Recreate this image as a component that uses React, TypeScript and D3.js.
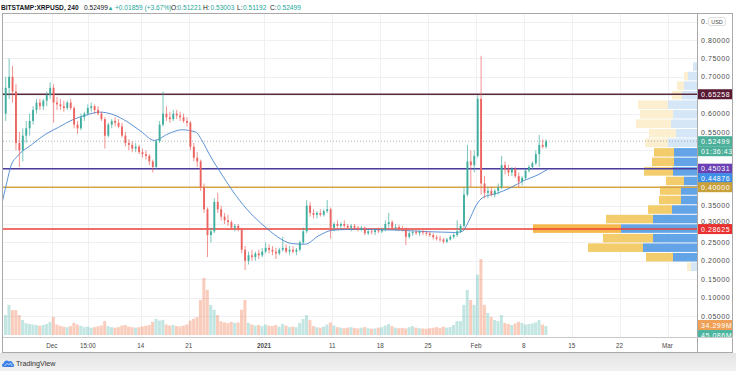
import React from 'react'
import * as d3 from 'd3'

// 12h candles, starting 2020-11-24 00:00 UTC: [open, high, low, close]
const candleStart = '2020-11-24T00:00:00Z'
const ohlc: number[][] = [
  [0.60, 0.70, 0.58, 0.67], [0.67, 0.75, 0.64, 0.70], [0.70, 0.73, 0.63, 0.66], [0.66, 0.68, 0.50, 0.52],
  [0.52, 0.55, 0.455, 0.50], [0.50, 0.56, 0.47, 0.54], [0.54, 0.58, 0.52, 0.56], [0.56, 0.60, 0.54, 0.58],
  [0.58, 0.62, 0.57, 0.61], [0.61, 0.64, 0.60, 0.63], [0.63, 0.64, 0.61, 0.62], [0.62, 0.64, 0.61, 0.635],
  [0.635, 0.66, 0.62, 0.65], [0.65, 0.685, 0.64, 0.67], [0.67, 0.68, 0.575, 0.63], [0.63, 0.645, 0.61, 0.625],
  [0.625, 0.64, 0.61, 0.62], [0.62, 0.635, 0.605, 0.615], [0.615, 0.635, 0.61, 0.63], [0.63, 0.64, 0.61, 0.615],
  [0.615, 0.62, 0.56, 0.57], [0.57, 0.58, 0.545, 0.56], [0.56, 0.60, 0.555, 0.59], [0.59, 0.605, 0.58, 0.60],
  [0.60, 0.625, 0.595, 0.615], [0.615, 0.63, 0.605, 0.62], [0.62, 0.625, 0.60, 0.61], [0.61, 0.62, 0.595, 0.60],
  [0.60, 0.605, 0.58, 0.585], [0.585, 0.59, 0.505, 0.54], [0.54, 0.575, 0.535, 0.57], [0.57, 0.585, 0.56, 0.58],
  [0.58, 0.59, 0.565, 0.575], [0.575, 0.585, 0.56, 0.565], [0.565, 0.575, 0.535, 0.54], [0.54, 0.55, 0.51, 0.52],
  [0.52, 0.53, 0.50, 0.515], [0.515, 0.525, 0.495, 0.505], [0.505, 0.52, 0.495, 0.51], [0.51, 0.515, 0.49, 0.495],
  [0.495, 0.505, 0.48, 0.49], [0.49, 0.50, 0.475, 0.485], [0.485, 0.49, 0.46, 0.47], [0.47, 0.475, 0.44, 0.455],
  [0.455, 0.53, 0.45, 0.525], [0.525, 0.58, 0.52, 0.57], [0.57, 0.66, 0.565, 0.60], [0.60, 0.62, 0.58, 0.59],
  [0.59, 0.605, 0.575, 0.585], [0.585, 0.61, 0.58, 0.60], [0.60, 0.61, 0.585, 0.595], [0.595, 0.605, 0.58, 0.59],
  [0.59, 0.60, 0.575, 0.58], [0.58, 0.59, 0.565, 0.575], [0.575, 0.58, 0.50, 0.51], [0.51, 0.52, 0.47, 0.48],
  [0.48, 0.495, 0.455, 0.47], [0.47, 0.475, 0.39, 0.40], [0.40, 0.41, 0.33, 0.34], [0.34, 0.345, 0.21, 0.27],
  [0.27, 0.29, 0.25, 0.28], [0.28, 0.37, 0.275, 0.36], [0.36, 0.385, 0.33, 0.34], [0.34, 0.35, 0.31, 0.32],
  [0.32, 0.33, 0.30, 0.31], [0.31, 0.325, 0.295, 0.305], [0.305, 0.31, 0.285, 0.29], [0.29, 0.30, 0.28, 0.295],
  [0.295, 0.30, 0.28, 0.285], [0.285, 0.29, 0.22, 0.23], [0.23, 0.24, 0.175, 0.20], [0.20, 0.225, 0.19, 0.215],
  [0.215, 0.23, 0.20, 0.21], [0.21, 0.225, 0.20, 0.22], [0.22, 0.23, 0.205, 0.215], [0.215, 0.235, 0.21, 0.225],
  [0.225, 0.25, 0.22, 0.235], [0.235, 0.245, 0.22, 0.23], [0.23, 0.24, 0.215, 0.225], [0.225, 0.235, 0.205, 0.22],
  [0.22, 0.235, 0.215, 0.23], [0.23, 0.265, 0.225, 0.235], [0.235, 0.245, 0.22, 0.225], [0.225, 0.24, 0.215, 0.23],
  [0.23, 0.24, 0.22, 0.225], [0.225, 0.235, 0.215, 0.23], [0.23, 0.255, 0.225, 0.25], [0.25, 0.29, 0.245, 0.28],
  [0.28, 0.365, 0.275, 0.35], [0.35, 0.36, 0.32, 0.33], [0.33, 0.34, 0.315, 0.325], [0.325, 0.335, 0.315, 0.33],
  [0.33, 0.34, 0.32, 0.325], [0.325, 0.34, 0.32, 0.335], [0.335, 0.365, 0.33, 0.34], [0.34, 0.345, 0.26, 0.29],
  [0.29, 0.305, 0.28, 0.30], [0.30, 0.31, 0.29, 0.295], [0.295, 0.305, 0.285, 0.30], [0.30, 0.31, 0.29, 0.295],
  [0.295, 0.30, 0.285, 0.29], [0.29, 0.30, 0.28, 0.295], [0.295, 0.30, 0.285, 0.29], [0.29, 0.295, 0.28, 0.285],
  [0.285, 0.295, 0.28, 0.29], [0.29, 0.293, 0.27, 0.275], [0.275, 0.285, 0.27, 0.28], [0.28, 0.285, 0.272, 0.278],
  [0.278, 0.288, 0.27, 0.283], [0.283, 0.29, 0.275, 0.28], [0.28, 0.29, 0.275, 0.285], [0.285, 0.31, 0.28, 0.30],
  [0.30, 0.33, 0.29, 0.305], [0.305, 0.31, 0.285, 0.29], [0.29, 0.30, 0.283, 0.292], [0.292, 0.298, 0.282, 0.287],
  [0.287, 0.295, 0.28, 0.285], [0.285, 0.29, 0.243, 0.265], [0.265, 0.28, 0.26, 0.275], [0.275, 0.283, 0.268, 0.278],
  [0.278, 0.285, 0.27, 0.275], [0.275, 0.283, 0.268, 0.28], [0.28, 0.285, 0.27, 0.277], [0.277, 0.282, 0.268, 0.274],
  [0.274, 0.28, 0.265, 0.27], [0.27, 0.275, 0.258, 0.264], [0.264, 0.27, 0.255, 0.26], [0.26, 0.268, 0.252, 0.258],
  [0.258, 0.262, 0.247, 0.252], [0.252, 0.262, 0.248, 0.258], [0.258, 0.27, 0.255, 0.265], [0.265, 0.275, 0.26, 0.27],
  [0.27, 0.31, 0.265, 0.28], [0.28, 0.30, 0.275, 0.295], [0.295, 0.40, 0.29, 0.38], [0.38, 0.515, 0.375, 0.47],
  [0.47, 0.50, 0.40, 0.46], [0.46, 0.50, 0.44, 0.485], [0.485, 0.65, 0.48, 0.64], [0.64, 0.757, 0.38, 0.41],
  [0.41, 0.43, 0.37, 0.385], [0.385, 0.40, 0.37, 0.39], [0.39, 0.40, 0.375, 0.38], [0.38, 0.395, 0.372, 0.39],
  [0.39, 0.41, 0.38, 0.40], [0.40, 0.485, 0.395, 0.46], [0.46, 0.47, 0.435, 0.45], [0.45, 0.46, 0.43, 0.44],
  [0.44, 0.455, 0.43, 0.45], [0.45, 0.455, 0.425, 0.43], [0.43, 0.44, 0.40, 0.415], [0.415, 0.43, 0.405, 0.425],
  [0.425, 0.45, 0.42, 0.445], [0.445, 0.46, 0.44, 0.455], [0.455, 0.47, 0.45, 0.465], [0.465, 0.50, 0.46, 0.49],
  [0.49, 0.542, 0.455, 0.515], [0.515, 0.53, 0.505, 0.51], [0.51, 0.53, 0.505, 0.52499],
]

// volume per candle, millions
const volumes = [
  76, 115, 95, 95, 76, 57, 45, 42, 40, 38, 35, 38, 42, 50, 69,
  40, 35, 32, 30, 34, 46, 40, 35, 30, 32, 28, 30, 33, 36, 53,
  34, 30, 28, 30, 36, 38, 32, 30, 28, 30, 33, 35, 38, 50, 61, 55, 58,
  40, 36, 38, 34, 33, 36, 40, 55, 62, 68, 134, 218, 172, 115, 96, 76,
  52, 48, 45, 50, 46, 48, 96, 134,
  46, 40, 36, 38, 34, 40, 36, 34, 38, 32, 42, 36, 30, 32, 30, 46, 61, 76, 57,
  34, 30, 28, 32, 40, 48, 36, 30, 28, 26, 28, 30, 27, 25, 28, 30, 26, 24, 25, 28,
  30, 36, 42, 34, 28, 26, 27, 25, 30, 34, 28, 26, 25, 24, 26, 28, 30, 27, 32, 28, 30,
  38, 53, 53, 115, 172, 134, 115, 230, 290, 115, 84, 69, 57, 53, 76,
  46, 42, 38, 44, 50, 46, 40, 42, 44, 48, 57, 40, 34.3,
]

// moving average
const maDates = [
  '2020-11-23T18:00Z', '2020-11-24T12:00Z', '2020-11-25T00:00Z', '2020-11-26T00:00Z', '2020-11-28T00:00Z',
  '2020-11-30T00:00Z', '2020-12-02T00:00Z', '2020-12-04T00:00Z', '2020-12-06T00:00Z', '2020-12-08T00:00Z',
  '2020-12-10T00:00Z', '2020-12-12T00:00Z', '2020-12-14T00:00Z', '2020-12-16T00:00Z', '2020-12-18T00:00Z',
  '2020-12-20T00:00Z', '2020-12-22T00:00Z', '2020-12-23T00:00Z', '2020-12-24T00:00Z', '2020-12-26T00:00Z',
  '2020-12-28T00:00Z', '2020-12-30T00:00Z', '2021-01-01T00:00Z', '2021-01-03T00:00Z', '2021-01-05T00:00Z',
  '2021-01-07T00:00Z', '2021-01-09T00:00Z', '2021-01-11T00:00Z', '2021-01-13T00:00Z', '2021-01-15T00:00Z',
  '2021-01-17T00:00Z', '2021-01-19T00:00Z', '2021-01-21T00:00Z', '2021-01-23T00:00Z', '2021-01-25T00:00Z',
  '2021-01-27T00:00Z', '2021-01-29T00:00Z', '2021-01-30T00:00Z', '2021-01-31T00:00Z', '2021-02-01T00:00Z',
  '2021-02-02T00:00Z', '2021-02-04T00:00Z', '2021-02-06T00:00Z', '2021-02-08T00:00Z', '2021-02-10T00:00Z',
  '2021-02-11T12:00Z',
]
const maValues = [
  0.36, 0.42, 0.457, 0.485, 0.515,
  0.543, 0.563, 0.583, 0.596, 0.604,
  0.597, 0.578, 0.552, 0.527, 0.545,
  0.556, 0.55, 0.525, 0.49, 0.43,
  0.375, 0.33, 0.295, 0.265, 0.247,
  0.245, 0.268, 0.283, 0.285, 0.286,
  0.285, 0.284, 0.283, 0.281, 0.279,
  0.278, 0.277, 0.28, 0.31, 0.35,
  0.372, 0.383, 0.398, 0.418, 0.433,
  0.449,
]

// visible-range volume profile: up / down volume per row (relative units)
const profileLow = 0.1696
const profileStep = 0.0259
const profileUp = [6, 24, 54, 44, 76, 44, 25, 16, 16, 13, 24, 23, 23, 29, 21, 26, 24, 29, 15, 13, 9, 4]
const profileDown = [4, 27, 55, 50, 88, 47, 24, 22, 21, 18, 29, 22, 20, 23, 27, 35, 33, 30, 10, 7, 4, 0]
const valueAreaRows = [1, 12]
const pocRow = 4

const priceTicks = [0.05, 0.1, 0.15, 0.2, 0.25, 0.3, 0.35, 0.4, 0.45, 0.5, 0.55, 0.6, 0.65, 0.7, 0.75, 0.8, 0.85]

const timeTickDates = [
  '2020-12-01', '2020-12-06T06:00Z', '2020-12-14', '2020-12-21', '2021-01-01', '2021-01-11', '2021-01-18',
  '2021-01-25', '2021-02-01', '2021-02-08', '2021-02-15', '2021-02-22', '2021-03-01',
]
const timeTickLabels = ['Dec', '15:00', '14', '21', '2021', '11', '18', '25', 'Feb', '8', '15', '22', 'Mar']

const levelPrices = [0.65258, 0.45031, 0.40000, 0.28625]
const levelColors = ['#5a2a3c', '#4b3c9e', '#d6a445', '#e8413a']
const levelLabelColors = ['#5a1a35', '#6a40b4', '#c9a13b', '#e8312f']

const lastPrice = 0.52499
const maLast = 0.44876
const countdown = '01:36:43'
const volumeLabels = ['34.299M', '45.086M']

const W = 736
const H = 371
const pane = { left: 3, right: 697, top: 13, bottom: 337 }
const UP = '#26a69a'
const DOWN = '#ef5350'
const FONT = '"Liberation Sans", Arial, sans-serif'

export default function App() {
  const x = d3
    .scaleUtc()
    .domain([new Date('2020-12-14T00:00:00Z'), new Date('2021-03-01T00:00:00Z')])
    .range([140.8, 667.5])
  const y = d3.scaleLinear().domain([0.05, 0.8]).range([316, 40])
  const yv = d3.scaleLinear().domain([0, 300]).range([335, 256.4])

  const t0 = new Date(candleStart).getTime()
  const half = 12 * 3600 * 1000
  const candles = ohlc.map((d, i) => ({
    t: new Date(t0 + i * half + half / 2),
    o: d[0],
    h: d[1],
    l: d[2],
    c: d[3],
    v: volumes[i] ?? 30,
  }))
  const step = x(new Date(t0 + half)) - x(new Date(t0))
  const bw = step * 0.55

  const maLine = d3
    .line<[Date, number]>()
    .x((d) => x(d[0]))
    .y((d) => y(d[1]))
    .curve(d3.curveMonotoneX)
  const maPath = maLine(maDates.map((d, i) => [new Date(d), maValues[i]]))

  const totals = profileUp.map((u, i) => u + profileDown[i])
  const pw = d3.scaleLinear().domain([0, d3.max(totals) as number]).range([0, 164])

  // right-axis tags; the MA tag is pushed below the purple level tag as the platform does
  const tags = [
    { yy: y(levelPrices[0]), text: levelPrices[0].toFixed(5), bg: levelLabelColors[0] },
    { yy: y(lastPrice), text: lastPrice.toFixed(5), bg: '#4caf9a' },
    { yy: y(lastPrice) + 10, text: countdown, bg: '#4caf9a' },
    { yy: y(levelPrices[1]), text: levelPrices[1].toFixed(5), bg: levelLabelColors[1] },
    { yy: y(levelPrices[1]) + 9.5, text: maLast.toFixed(5), bg: '#3d8fe8' },
    { yy: y(levelPrices[2]), text: levelPrices[2].toFixed(5), bg: levelLabelColors[2] },
    { yy: y(levelPrices[3]), text: levelPrices[3].toFixed(5), bg: levelLabelColors[3] },
    { yy: yv(34.3) - 1, text: volumeLabels[0], bg: '#f0a055' },
    { yy: yv(34.3) + 9, text: volumeLabels[1], bg: '#4db6a0' },
  ]
  const hiddenTick = (p: number) => tags.some((t) => Math.abs(t.yy - y(p)) < 7)

  return (
    <svg width={W} height={H} style={{ position: 'absolute', left: 0, top: 0 }}>
      <defs>
        <clipPath id="pane">
          <rect x={pane.left} y={pane.top} width={pane.right - pane.left} height={pane.bottom - pane.top} />
        </clipPath>
        <clipPath id="axis">
          <rect x={pane.right} y={pane.top} width={36} height={pane.bottom - pane.top} />
        </clipPath>
        <linearGradient id="foot" x1="0" y1="0" x2="0" y2="1">
          <stop offset="0" stopColor="#e4e4e4" />
          <stop offset="1" stopColor="#f1f1f1" />
        </linearGradient>
      </defs>
      <rect width={W} height={H} fill="#fff" />
      <rect x={0} y={353} width={W} height={18} fill="url(#foot)" />

      {/* header legend */}
      <g fontFamily={FONT} fontSize={6.6}>
        <text x={1} y={10} fill="#131722" fontWeight={600}>BITSTAMP:XRPUSD, 240</text>
        <text x={84} y={10} fill="#131722">0.52499</text>
        <text x={107.5} y={10} fill={UP} fontSize={6}>▲</text>
        <text x={115} y={10} fill={UP}>+0.01859 (+3.67%)</text>
        <text x={171} y={10} fill="#131722">O:</text>
        <text x={177.5} y={10} fill={UP}>0.51221</text>
        <text x={203} y={10} fill="#131722">H:</text>
        <text x={210.5} y={10} fill={UP}>0.53003</text>
        <text x={237} y={10} fill="#131722">L:</text>
        <text x={243} y={10} fill={UP}>0.51192</text>
        <text x={270} y={10} fill="#131722">C:</text>
        <text x={277} y={10} fill={UP}>0.52499</text>
      </g>

      {/* grid */}
      <g stroke="#eef0f4" strokeWidth={1}>
        {priceTicks.map((p) => (
          <line key={p} x1={pane.left} x2={pane.right} y1={Math.round(y(p)) + 0.5} y2={Math.round(y(p)) + 0.5} />
        ))}
        {timeTickDates.map((d) => (
          <line key={d} x1={Math.round(x(new Date(d))) + 0.5} x2={Math.round(x(new Date(d))) + 0.5} y1={pane.top} y2={pane.bottom} />
        ))}
      </g>

      <g clipPath="url(#pane)">
        {/* volume */}
        {candles.map((d, i) => (
          <rect
            key={'v' + i}
            x={x(d.t) - step / 2}
            y={yv(d.v)}
            width={step - 0.4}
            height={yv(0) - yv(d.v)}
            fill={d.c >= d.o ? 'rgba(38,166,154,0.28)' : 'rgba(239,120,80,0.38)'}
          />
        ))}

        {/* volume profile */}
        {profileUp.map((u, i) => {
          const lo = profileLow + i * profileStep
          const top = y(lo + profileStep)
          const h = y(lo) - top - 1
          const inVA = i >= valueAreaRows[0] && i <= valueAreaRows[1]
          const tot = pw(totals[i])
          const upW = pw(u)
          return (
            <g key={'p' + i}>
              <rect
                x={pane.right - tot}
                y={top}
                width={tot - upW}
                height={h}
                fill={i === pocRow ? '#f6b84a' : inVA ? '#f3cd6c' : '#fbefcf'}
              />
              <rect x={pane.right - upW} y={top} width={upW} height={h} fill={inVA ? '#62a4e6' : '#d5e6f7'} />
            </g>
          )
        })}

        {/* last price dotted line */}
        <line
          x1={pane.left}
          x2={pane.right}
          y1={y(lastPrice)}
          y2={y(lastPrice)}
          stroke="#9aa0a8"
          strokeWidth={0.8}
          strokeDasharray="1 2"
        />

        {/* horizontal levels */}
        {levelPrices.map((p, i) => (
          <line key={'l' + p} x1={pane.left} x2={pane.right} y1={y(p)} y2={y(p)} stroke={levelColors[i]} strokeWidth={1.6} />
        ))}

        {/* MA */}
        <path d={maPath ?? ''} fill="none" stroke="#4a86cf" strokeWidth={0.9} />

        {/* candles */}
        {candles.map((d, i) => {
          const col = d.c >= d.o ? '#3fae9f' : '#ec6461'
          const cx = x(d.t)
          const top = y(Math.max(d.o, d.c))
          const bot = y(Math.min(d.o, d.c))
          return (
            <g key={'c' + i}>
              <line x1={cx} x2={cx} y1={y(d.h)} y2={y(d.l)} stroke={col} strokeWidth={0.7} />
              <rect x={cx - bw / 2} y={top} width={bw} height={Math.max(0.8, bot - top)} fill={col} />
            </g>
          )
        })}
      </g>

      {/* price axis */}
      <g fontFamily={FONT} fontSize={7} letterSpacing={0.55} fill="#4a4a4a">
        {priceTicks
          .filter((p) => !hiddenTick(p) || p === 0.3)
          .map((p) => (
            <text key={'t' + p} x={701} y={y(p) + (p === 0.3 ? 0 : 2.6)}>
              {p === 0.85 ? '0.' : p.toFixed(5)}
            </text>
          ))}
      </g>
      <rect x={708.5} y={17.5} width={17} height={8} rx={2} fill="#fff" stroke="#c8c8c8" strokeWidth={0.6} />
      <text x={717} y={23.7} fontSize={5.5} fontFamily={FONT} fill="#4a4a4a" textAnchor="middle">
        USD
      </text>

      <g clipPath="url(#axis)">
        {tags.map((t, i) => (
          <g key={'tag' + i}>
            <rect x={697} y={t.yy - 5} width={36} height={10} fill={t.bg} />
            <text x={701} y={t.yy + 2.6} fontSize={7} letterSpacing={0.55} fill="#fff" fontFamily={FONT}>
              {t.text}
            </text>
          </g>
        ))}
      </g>

      {/* time axis */}
      <g fontFamily={FONT} fontSize={6.3} fill="#4a4a4a" textAnchor="middle">
        {timeTickDates.map((d, i) => (
          <text
            key={'x' + d}
            x={x(new Date(d))}
            y={348}
            fontWeight={timeTickLabels[i] === '2021' ? 700 : 400}
          >
            {timeTickLabels[i]}
          </text>
        ))}
      </g>

      {/* frame */}
      <g fill="none" stroke="#a9a9a9" strokeWidth={1}>
        <rect x={2.5} y={13.5} width={730} height={339} />
        <line x1={pane.right + 0.5} x2={pane.right + 0.5} y1={13} y2={353} />
        <line x1={3} x2={733} y1={pane.bottom + 0.5} y2={pane.bottom + 0.5} stroke="#c9c9c9" />
      </g>

      {/* logo */}
      <g>
        <path
          d="M3.5 367 C1.5 367 1.5 363.5 3.8 363.3 C4 360.5 7.5 359.6 9 361.6 C10.4 360.4 12.8 361.4 12.6 363.4 C14.6 363.6 14.6 367 12.6 367 Z"
          fill="#3a7ee8"
        />
        <path d="M4.5 366 L7 363.4 L8.6 365 L10.4 363 L12.2 366" fill="none" stroke="#fff" strokeWidth={0.7} />
        <text x={16} y={366} fontSize={7.2} fontFamily={FONT} fill="#333">
          TradingView
        </text>
      </g>
    </svg>
  )
}
